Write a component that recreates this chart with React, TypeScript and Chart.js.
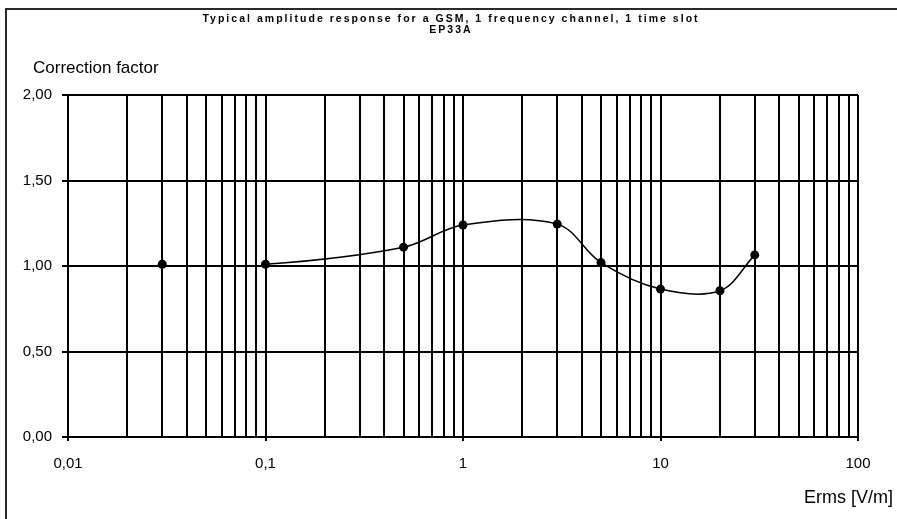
import React, { useEffect, useRef } from 'react';
import { Chart, registerables } from 'chart.js';

Chart.register(...registerables);

const titleLines = ['Typical amplitude response for a GSM, 1 frequency channel, 1 time slot', 'EP33A'];
const yAxisTitle = 'Correction factor';
const xAxisTitle = 'Erms [V/m]';

const fieldStrength = [0.03, 0.1, 0.5, 1, 3, 5, 10, 20, 30];
const correctionFactor = [1.01, 1.01, 1.11, 1.24, 1.245, 1.02, 0.865, 0.855, 1.065];

const xMajorTicks = [0.01, 0.1, 1, 10, 100];
const xMajorLabels = ['0,01', '0,1', '1', '10', '100'];
const xMinorMultipliers = [2, 3, 4, 5, 6, 7, 8, 9];

const yTicks = [0, 0.5, 1, 1.5, 2];
const yTickLabels = ['0,00', '0,50', '1,00', '1,50', '2,00'];

const FONT = '"Liberation Sans", Arial, sans-serif';

function buildXGrid(): { value: number; major: boolean }[] {
  const out: { value: number; major: boolean }[] = [];
  xMajorTicks.forEach((m, i) => {
    out.push({ value: m, major: true });
    if (i < xMajorTicks.length - 1) {
      xMinorMultipliers.forEach((k) => out.push({ value: +(m * k).toPrecision(6), major: false }));
    }
  });
  return out;
}

const decorPlugin = {
  id: 'decor',
  afterDraw(chart: any) {
    const ctx = chart.ctx as CanvasRenderingContext2D;
    ctx.save();
    // frame (left and top edges visible)
    ctx.strokeStyle = '#2a2a2a';
    ctx.lineWidth = 2;
    ctx.beginPath();
    ctx.moveTo(6, 519);
    ctx.lineTo(6, 9);
    ctx.lineTo(897, 9);
    ctx.stroke();

    // title
    ctx.fillStyle = '#000';
    ctx.textAlign = 'center';
    ctx.textBaseline = 'middle';
    ctx.font = `bold 10.5px ${FONT}`;
    (ctx as any).letterSpacing = '0px';
    const w0 = ctx.measureText(titleLines[0]).width;
    const ls = Math.max(0, (497 - w0) / titleLines[0].length);
    (ctx as any).letterSpacing = ls.toFixed(2) + 'px';
    ctx.fillText(titleLines[0], 451, 19);
    ctx.fillText(titleLines[1], 451, 30);
    (ctx as any).letterSpacing = '0px';

    // y axis title
    ctx.textAlign = 'left';
    ctx.font = `17px ${FONT}`;
    ctx.fillText(yAxisTitle, 33, 68);

    // x axis title
    ctx.textAlign = 'right';
    ctx.font = `18px ${FONT}`;
    ctx.fillText(xAxisTitle, 893, 498);
    ctx.restore();
  },
};

export default function App() {
  const ref = useRef<HTMLCanvasElement | null>(null);

  useEffect(() => {
    if (!ref.current) return;
    const grid = buildXGrid();
    const chart = new Chart(ref.current, {
      type: 'scatter',
      data: {
        datasets: [
          {
            data: fieldStrength.map((x, i) => ({ x, y: correctionFactor[i] })),
            showLine: true,
            borderColor: '#000',
            borderWidth: 1.5,
            tension: 0.35,
            pointRadius: 4.5,
            pointBackgroundColor: '#000',
            pointBorderColor: '#000',
            pointBorderWidth: 0,
            segment: {
              borderColor: (c: any) => (c.p0DataIndex === 0 ? 'rgba(0,0,0,0)' : '#000'),
            },
          } as any,
        ],
      },
      options: {
        animation: false,
        responsive: false,
        events: [],
        layout: { padding: { left: 0, right: 39, top: 95, bottom: 0 } },
        plugins: {
          legend: { display: false },
          title: { display: false },
          tooltip: { enabled: false },
        },
        scales: {
          x: {
            type: 'logarithmic',
            min: 0.01,
            max: 100,
            afterBuildTicks: (scale: any) => {
              scale.ticks = grid.map((g) => ({ value: g.value, major: g.major }));
            },
            afterFit: (scale: any) => {
              scale.height = 82;
            },
            border: { display: true, color: '#000', width: 2 },
            grid: {
              color: '#000',
              lineWidth: 2,
              drawTicks: true,
              tickLength: 4,
              tickColor: (c: any) => (c.tick && c.tick.major ? '#000' : 'rgba(0,0,0,0)'),
            },
            ticks: {
              autoSkip: false,
              maxRotation: 0,
              padding: 14,
              color: '#000',
              font: { family: FONT, size: 15 },
              callback: (value: any) => {
                const idx = xMajorTicks.findIndex((m) => Math.abs(m - Number(value)) < m * 1e-6);
                return idx >= 0 ? xMajorLabels[idx] : '';
              },
            },
          },
          y: {
            type: 'linear',
            min: 0,
            max: 2,
            afterBuildTicks: (scale: any) => {
              scale.ticks = yTicks.map((v) => ({ value: v }));
            },
            afterFit: (scale: any) => {
              scale.width = 68;
            },
            border: { display: true, color: '#000', width: 2 },
            grid: {
              color: '#000',
              lineWidth: 2,
              drawTicks: true,
              tickLength: 6,
              tickColor: '#000',
            },
            ticks: {
              padding: 10,
              color: '#000',
              font: { family: FONT, size: 15 },
              callback: (value: any) => {
                const idx = yTicks.findIndex((v) => Math.abs(v - Number(value)) < 1e-9);
                return idx >= 0 ? yTickLabels[idx] : '';
              },
            },
          },
        },
      },
      plugins: [decorPlugin],
    });
    return () => chart.destroy();
  }, []);

  return (
    <div style={{ position: 'fixed', left: 0, top: 0, width: 897, height: 519, background: '#fff' }}>
      <canvas ref={ref} width={897} height={519} style={{ display: 'block', width: 897, height: 519 }} />
    </div>
  );
}
